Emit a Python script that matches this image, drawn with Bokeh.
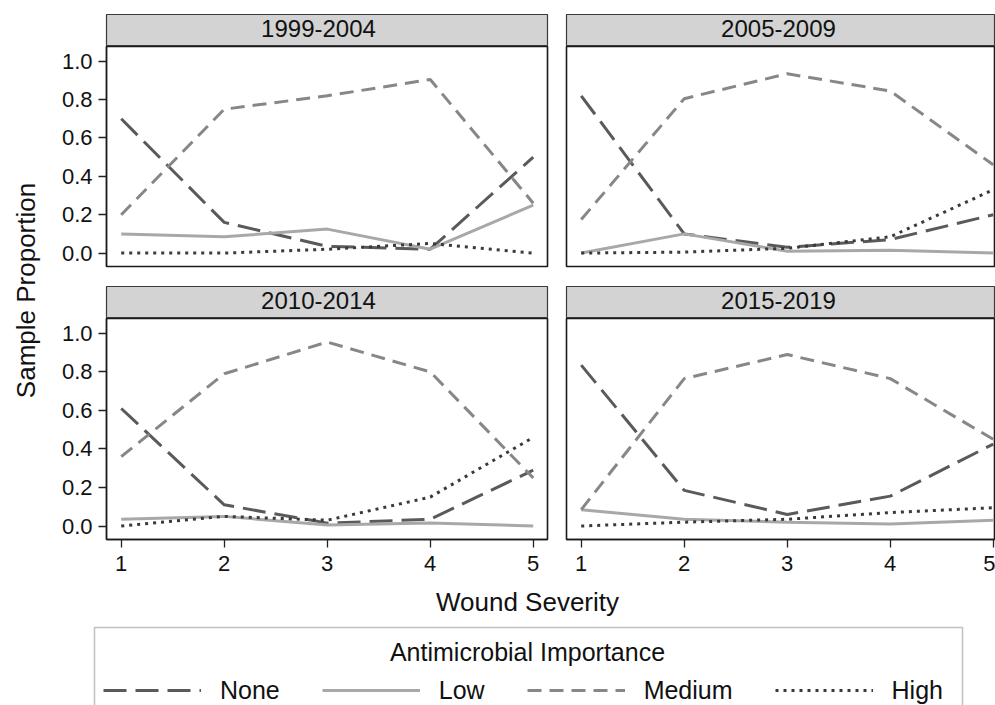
import math
from bokeh.plotting import figure
from bokeh.layouts import column, row
from bokeh.models import (Range1d, FixedTicker, PrintfTickFormatter, Label,
                          Legend, LegendItem, BoxAnnotation)
from bokeh.embed import file_html
from bokeh.resources import INLINE

# ---------------- data ----------------
severity = [1, 2, 3, 4, 5]
periods = ["1999-2004", "2005-2009", "2010-2014", "2015-2019"]
importance = ["None", "Low", "Medium", "High"]

none_1999_2004 = [0.70, 0.16, 0.035, 0.02, 0.50]
low_1999_2004 = [0.10, 0.085, 0.125, 0.02, 0.25]
medium_1999_2004 = [0.20, 0.75, 0.82, 0.905, 0.26]
high_1999_2004 = [0.0, 0.0, 0.02, 0.05, 0.0]

none_2005_2009 = [0.82, 0.10, 0.03, 0.07, 0.20]
low_2005_2009 = [0.0, 0.10, 0.01, 0.015, 0.0]
medium_2005_2009 = [0.175, 0.805, 0.935, 0.845, 0.46]
high_2005_2009 = [0.0, 0.005, 0.025, 0.085, 0.33]

none_2010_2014 = [0.61, 0.11, 0.015, 0.035, 0.29]
low_2010_2014 = [0.035, 0.05, 0.005, 0.015, 0.0]
medium_2010_2014 = [0.36, 0.79, 0.955, 0.80, 0.25]
high_2010_2014 = [0.0, 0.05, 0.03, 0.15, 0.46]

none_2015_2019 = [0.835, 0.185, 0.06, 0.155, 0.425]
low_2015_2019 = [0.085, 0.035, 0.02, 0.01, 0.03]
medium_2015_2019 = [0.085, 0.765, 0.89, 0.765, 0.45]
high_2015_2019 = [0.0, 0.02, 0.035, 0.07, 0.095]

y_ticks = [0.0, 0.2, 0.4, 0.6, 0.8, 1.0]

panel_data = {
    "1999-2004": [none_1999_2004, low_1999_2004, medium_1999_2004, high_1999_2004],
    "2005-2009": [none_2005_2009, low_2005_2009, medium_2005_2009, high_2005_2009],
    "2010-2014": [none_2010_2014, low_2010_2014, medium_2010_2014, high_2010_2014],
    "2015-2019": [none_2015_2019, low_2015_2019, medium_2015_2019, high_2015_2019],
}

# ---------------- styles ----------------
FONT = "Liberation Sans"
STYLES = {
    "None": dict(line_color="#5a5a5a", line_width=3.0, line_dash="23 9"),
    "Low": dict(line_color="#a8a8a8", line_width=3.0),
    "Medium": dict(line_color="#878787", line_width=3.0, line_dash="14 8"),
    "High": dict(line_color="#3a3a3a", line_width=3.0, line_dash="3 5"),
}

PX_PER_X = 103.0
X_START = 0.857
Y_RANGE = (-0.07, 1.077)


def common(p):
    p.grid.grid_line_color = None
    p.background_fill_color = "white"
    p.border_fill_color = "white"


def make_header(text, left, top):
    width = 512 if left else 439
    frame_w = 441 if left else 429
    h = figure(width=width, height=46 if top else 42,
               x_range=Range1d(0, frame_w), y_range=Range1d(0, 1),
               x_axis_location=None, y_axis_location=None, title=None,
               toolbar_location=None, output_backend="svg",
               min_border_left=62 if left else 10,
               min_border_right=9 if left else 0,
               min_border_top=14 if top else 10, min_border_bottom=0)
    common(h)
    h.background_fill_color = "#d3d3d3"
    h.outline_line_color = "#3a3a3a"
    h.outline_line_width = 1.2
    h.add_layout(Label(x=212, y=0.55, text=text, text_align="center",
                       text_baseline="middle", text_font=FONT,
                       text_font_size="24px", text_color="#111111"))
    return h


def make_panel(period, left, bottom):
    width = 512 if left else 439
    frame_w = 441 if left else 429
    p = figure(width=width, height=264 if bottom else 230,
               x_range=Range1d(X_START, X_START + frame_w / PX_PER_X),
               y_range=Range1d(*Y_RANGE),
               x_axis_location="below" if bottom else None,
               y_axis_location="left" if left else None,
               title=None, toolbar_location=None, output_backend="svg",
               min_border_left=62 if left else 10,
               min_border_right=9 if left else 0,
               min_border_top=0, min_border_bottom=43 if bottom else 10)
    common(p)
    p.outline_line_color = "#1a1a1a"
    p.outline_line_width = 1.6
    for name, vals in zip(importance, panel_data[period]):
        p.line(severity, vals, line_cap="butt", **STYLES[name])
    for ax in list(p.xaxis) + list(p.yaxis):
        ax.major_tick_out = 8
        ax.major_tick_in = 0
        ax.minor_tick_out = 0
        ax.minor_tick_in = 0
        ax.major_tick_line_color = "#222222"
        ax.major_tick_line_width = 1.3
        ax.axis_line_color = "#1a1a1a"
        ax.axis_line_width = 1.3
        ax.major_label_text_font = FONT
        ax.major_label_text_font_size = "22px"
        ax.major_label_text_color = "#111111"
        ax.major_label_standoff = 6
    if left:
        p.yaxis.ticker = FixedTicker(ticks=y_ticks)
        p.yaxis.formatter = PrintfTickFormatter(format="%.1f")
    if bottom:
        p.xaxis.ticker = FixedTicker(ticks=severity)
        p.xaxis.major_label_standoff = 8
    return p


hTL = make_header(periods[0], True, True)
hTR = make_header(periods[1], False, True)
hBL = make_header(periods[2], True, False)
hBR = make_header(periods[3], False, False)
pTL = make_panel(periods[0], True, False)
pTR = make_panel(periods[1], False, False)
pBL = make_panel(periods[2], True, True)
pBR = make_panel(periods[3], False, True)

# y axis title
ylab = figure(width=44, height=582, x_range=Range1d(0, 44), y_range=Range1d(0, 582),
              x_axis_location=None, y_axis_location=None, title=None,
              toolbar_location=None, output_backend="svg",
              min_border_left=0, min_border_right=0, min_border_top=0, min_border_bottom=0)
common(ylab)
ylab.outline_line_color = None
ylab.add_layout(Label(x=25, y=292, text="Sample Proportion", angle=math.pi / 2,
                      text_align="center", text_baseline="middle", text_font=FONT,
                      text_font_size="26px", text_color="#111111"))

# x axis title
xlab = figure(width=995, height=36, x_range=Range1d(0, 995), y_range=Range1d(0, 36),
              x_axis_location=None, y_axis_location=None, title=None,
              toolbar_location=None, output_backend="svg",
              min_border_left=0, min_border_right=0, min_border_top=0, min_border_bottom=0)
common(xlab)
xlab.outline_line_color = None
xlab.add_layout(Label(x=527, y=17, text="Wound Severity", text_align="center",
                      text_baseline="middle", text_font=FONT, text_font_size="26px",
                      text_color="#111111"))

# legend
leg = figure(width=995, height=87, x_range=Range1d(0, 995), y_range=Range1d(0, 87),
             x_axis_location=None, y_axis_location=None, title=None,
             toolbar_location=None, output_backend="svg",
             min_border_left=0, min_border_right=0, min_border_top=0, min_border_bottom=0)
common(leg)
leg.outline_line_color = None
leg.add_layout(BoxAnnotation(left=94, right=962, top=78, bottom=-20, fill_alpha=0,
                             line_color="#333333", line_width=1.5))
leg.add_layout(Label(x=527, y=54, text="Antimicrobial Importance", text_align="center",
                     text_baseline="middle", text_font=FONT, text_font_size="25px",
                     text_color="#111111"))
items = []
nan = float("nan")
for name in importance:
    r = leg.line(x=[nan], y=[nan], line_cap="butt", **STYLES[name])
    items.append(LegendItem(label=name, renderers=[r]))
legend = Legend(items=items, orientation="horizontal", location=(103, 0),
                border_line_color=None, background_fill_alpha=0,
                glyph_width=98, glyph_height=30, label_height=30, label_standoff=19,
                spacing=42, padding=0, margin=0,
                label_text_font=FONT, label_text_font_size="25px",
                label_text_color="#111111")
leg.add_layout(legend)

grid = column(row(hTL, hTR), row(pTL, pTR), row(hBL, hBR), row(pBL, pBR))
layout = column(row(ylab, grid), xlab, leg)

open("out.html", "w").write(file_html(layout, INLINE))
